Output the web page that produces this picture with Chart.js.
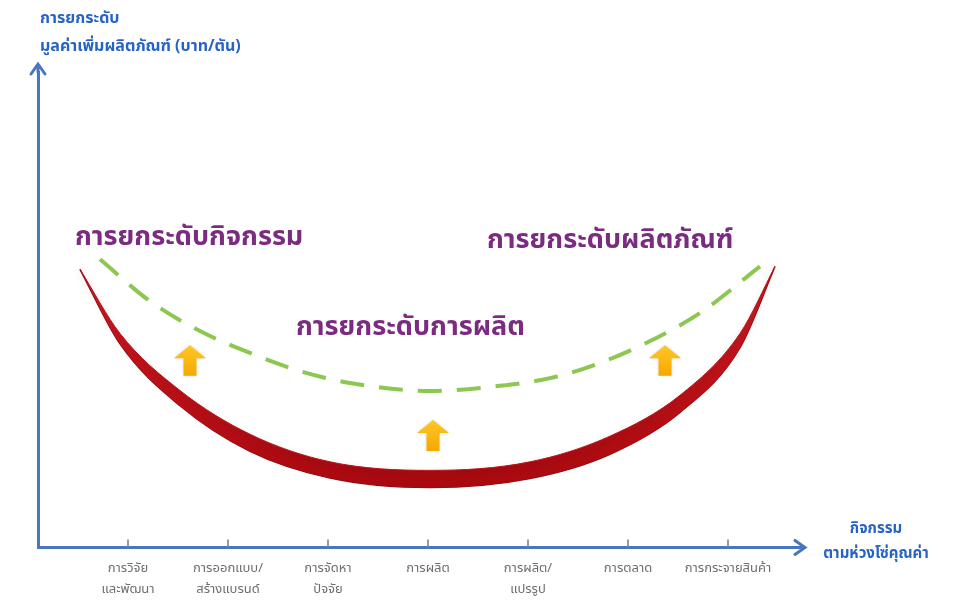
<!DOCTYPE html>
<html lang="th">
<head>
    <meta charset="UTF-8">
    <title>การยกระดับมูลค่าเพิ่มผลิตภัณฑ์</title>
    <script src="https://cdn.jsdelivr.net/npm/chart.js"></script>
    <style>
        body { margin: 0; background: #fff; }
        #wrap { width: 956px; height: 605px; position: relative; }
    </style>
</head>
<body>
<div id="wrap"><canvas id="smileChart"></canvas></div>
<script>
    // activities along the value chain (x axis)
    const categories = [
        ["การวิจัย", "และพัฒนา"],
        ["การออกแบบ/", "สร้างแบรนด์"],
        ["การจัดหา", "ปัจจัย"],
        ["การผลิต"],
        ["การผลิต/", "แปรรูป"],
        ["การตลาด"],
        ["การกระจายสินค้า"]
    ];
    const tickValues = [1, 2, 3, 4, 5, 6, 7];

    // red curve (current value added) - upper and lower edge
    const redX     = [0.52, 0.92, 1.52, 2.22, 3.02, 4.02, 5.02, 5.82, 6.52, 7.12, 7.47];
    const redUpper = [58.5, 45.0, 33.0, 23.8, 18.0, 16.2, 18.0, 23.4, 32.0, 45.0, 59.1];
    const redLower = [58.5, 42.8, 29.8, 20.2, 14.6, 12.6, 14.5, 19.6, 28.4, 42.0, 59.1];

    // green dashed curve (upgraded value added)
    const greenX = [0.72, 1.22, 1.72, 2.22, 2.72, 3.22, 4.02, 4.72, 5.22, 5.72, 6.22, 6.72, 7.32];
    const greenY = [60.6, 51.8, 45.5, 40.9, 37.1, 34.6, 32.9, 34.0, 35.6, 38.8, 43.4, 49.3, 59.1];

    // upgrade arrows
    const arrowX    = [1.62, 4.05, 6.37];
    const arrowFrom = [36.1, 20.3, 36.1];
    const arrowTo   = [42.5, 26.8, 42.5];

    const notes = ["การยกระดับกิจกรรม", "การยกระดับผลิตภัณฑ์", "การยกระดับการผลิต"];
    const yTitle = ["การยกระดับ", "มูลค่าเพิ่มผลิตภัณฑ์ (บาท/ตัน)"];
    const xTitle = ["กิจกรรม", "ตามห่วงโซ่คุณค่า"];

    const thaiFont = '"Noto Sans Thai", "Noto Sans Thai Looped", "Noto Sans", "DejaVu Sans", sans-serif';
    const axisBlue = "#4a76c0";

    const pts = (xs, ys) => xs.map((x, i) => ({ x: x, y: ys[i] }));

    // soft shadow under the red band
    const shadow = {
        id: "shadow",
        beforeDatasetDraw(chart, args) {
            if (args.index === 0) {
                chart.ctx.save();
                chart.ctx.shadowColor = "rgba(0,0,0,0.35)";
                chart.ctx.shadowBlur = 6;
                chart.ctx.shadowOffsetY = 3;
            }
        },
        afterDatasetDraw(chart, args) {
            if (args.index === 0) chart.ctx.restore();
        }
    };

    // draws the extra bits: axis arrows, small tick marks, titles, notes, yellow arrows
    const extras = {
        id: "extras",
        afterDatasetsDraw(chart) {
            const { ctx, chartArea, scales } = chart;
            const xs = scales.x, ys = scales.y;
            ctx.save();

            // yellow upgrade arrows
            arrowX.forEach((v, i) => {
                const cx = xs.getPixelForValue(v);
                const yb = ys.getPixelForValue(arrowFrom[i]);
                const yt = ys.getPixelForValue(arrowTo[i]);
                const h = yb - yt;
                const grad = ctx.createLinearGradient(0, yt, 0, yb);
                grad.addColorStop(0, "#ffc726");
                grad.addColorStop(1, "#f6a800");
                ctx.fillStyle = grad;
                ctx.shadowColor = "rgba(0,0,0,0.15)";
                ctx.shadowBlur = 3;
                ctx.beginPath();
                ctx.moveTo(cx, yt);
                ctx.lineTo(cx + 16, yt + h * 0.42);
                ctx.lineTo(cx + 6.5, yt + h * 0.42);
                ctx.lineTo(cx + 6.5, yb);
                ctx.lineTo(cx - 6.5, yb);
                ctx.lineTo(cx - 6.5, yt + h * 0.42);
                ctx.lineTo(cx - 16, yt + h * 0.42);
                ctx.closePath();
                ctx.fill();
            });
            ctx.shadowColor = "transparent";

            // tick marks pointing up from the x axis
            ctx.strokeStyle = "#9a9a9a";
            ctx.lineWidth = 2;
            tickValues.forEach(v => {
                const px = xs.getPixelForValue(v);
                ctx.beginPath();
                ctx.moveTo(px, chartArea.bottom - 1);
                ctx.lineTo(px, chartArea.bottom - 8);
                ctx.stroke();
            });

            // axis arrow heads
            ctx.strokeStyle = axisBlue;
            ctx.lineWidth = 3;
            ctx.lineCap = "round";
            const ax = chartArea.left, ay = chartArea.bottom;
            ctx.beginPath();
            ctx.moveTo(ax, chartArea.top);
            ctx.lineTo(ax, chartArea.top - 8);
            ctx.moveTo(ax - 7, chartArea.top + 2);
            ctx.lineTo(ax, chartArea.top - 8);
            ctx.lineTo(ax + 7, chartArea.top + 2);
            ctx.stroke();
            ctx.beginPath();
            ctx.moveTo(chartArea.right, ay);
            ctx.lineTo(chartArea.right + 5, ay);
            ctx.moveTo(chartArea.right - 5, ay - 7);
            ctx.lineTo(chartArea.right + 5, ay);
            ctx.lineTo(chartArea.right - 5, ay + 7);
            ctx.stroke();

            // axis titles
            ctx.fillStyle = "#2763c4";
            ctx.font = "bold 16px " + thaiFont;
            ctx.textAlign = "left";
            ctx.textBaseline = "middle";
            ctx.fillText(yTitle[0], 40, 20);
            ctx.fillText(yTitle[1], 40, 48);
            ctx.textAlign = "center";
            ctx.font = "bold 15px " + thaiFont;
            ctx.fillText(xTitle[0], 876, 530);
            ctx.fillText(xTitle[1], 876, 555);

            // notes
            ctx.fillStyle = "#7b2b80";
            ctx.font = "bold 27px " + thaiFont;
            ctx.textAlign = "left";
            ctx.fillText(notes[0], 75, 240);
            ctx.fillText(notes[1], 487, 243);
            ctx.fillText(notes[2], 296, 330);

            ctx.restore();
        }
    };

    const ctx = document.getElementById("smileChart").getContext("2d");
    const redGrad = ctx.createLinearGradient(0, 260, 0, 490);
    redGrad.addColorStop(0, "#d01a22");
    redGrad.addColorStop(1, "#a8090f");

    new Chart(ctx, {
        type: "line",
        data: {
            datasets: [
                {
                    label: "upper",
                    data: pts(redX, redUpper),
                    borderColor: "#b8141b",
                    borderWidth: 1,
                    backgroundColor: redGrad,
                    fill: "+1",
                    pointRadius: 0,
                    cubicInterpolationMode: "monotone"
                },
                {
                    label: "lower",
                    data: pts(redX, redLower),
                    borderColor: "#8c0a0f",
                    borderWidth: 1.5,
                    fill: false,
                    pointRadius: 0,
                    cubicInterpolationMode: "monotone"
                },
                {
                    label: "upgrade",
                    data: pts(greenX, greenY),
                    borderColor: "#8cc751",
                    borderWidth: 4,
                    borderDash: [24, 15],
                    fill: false,
                    pointRadius: 0,
                    cubicInterpolationMode: "monotone"
                }
            ]
        },
        options: {
            responsive: true,
            maintainAspectRatio: false,
            animation: false,
            layout: { padding: { left: 30, right: 156, top: 72, bottom: 0 } },
            plugins: { legend: { display: false }, tooltip: { enabled: false } },
            scales: {
                x: {
                    type: "linear",
                    min: 0.1,
                    max: 7.72,
                    afterBuildTicks: axis => { axis.ticks = tickValues.map(v => ({ value: v })); },
                    grid: { display: false },
                    border: { display: true, color: axisBlue, width: 3 },
                    ticks: {
                        autoSkip: false,
                        maxRotation: 0,
                        padding: 4,
                        color: "#6e6e6e",
                        font: { size: 13, family: thaiFont, lineHeight: 1.6 },
                        callback: v => categories[v - 1]
                    }
                },
                y: {
                    min: 0,
                    max: 100,
                    grid: { display: false },
                    border: { display: true, color: axisBlue, width: 3 },
                    ticks: { display: false }
                }
            }
        },
        plugins: [shadow, extras]
    });
</script>
</body>
</html>
